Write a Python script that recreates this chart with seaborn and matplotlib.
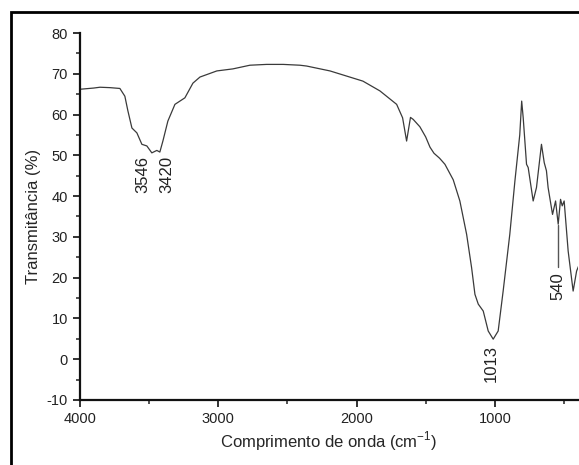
import numpy as np
import pandas as pd
import seaborn as sns
import matplotlib.pyplot as plt
from matplotlib.patches import Rectangle
from matplotlib.ticker import MultipleLocator

# FTIR spectrum
wavenumber = [4000, 3900, 3855, 3783, 3711, 3675, 3653, 3624, 3588, 3552,
              3516, 3480, 3444, 3422, 3400, 3364, 3313, 3241, 3183, 3132,
              3010, 2894, 2771, 2650, 2530, 2409, 2361, 2192, 1954, 1831,
              1710, 1667, 1638, 1610, 1590, 1542, 1500, 1469, 1440, 1400,
              1361, 1301, 1253, 1204, 1168, 1144, 1120, 1084, 1048, 1012,
              976, 940, 892, 855, 820, 806, 795, 771, 759, 723,
              699, 663, 643, 627, 615, 583, 561, 542, 525, 513,
              499, 470, 434, 409, 395]
transmittance = [66.2, 66.5, 66.7, 66.6, 66.4, 64.5, 60.9, 56.7, 55.5, 52.7,
                 52.3, 50.6, 51.2, 50.8, 53.5, 58.4, 62.5, 64.1, 67.7, 69.2,
                 70.7, 71.2, 72.1, 72.3, 72.3, 72.1, 71.9, 70.7, 68.2, 65.8,
                 62.5, 59.2, 53.5, 59.3, 58.8, 57.0, 54.5, 52.0, 50.5, 49.3,
                 47.8, 44.0, 38.8, 30.6, 22.4, 15.9, 13.5, 11.8, 6.9, 4.9,
                 6.9, 16.7, 30.6, 43.7, 55.0, 63.3, 59.2, 47.8, 47.0, 38.8,
                 42.1, 52.7, 48.2, 46.2, 42.1, 35.5, 38.8, 33.1, 39.2, 37.6,
                 38.8, 26.5, 16.7, 21.6, 22.8]

# peak labels
peak_labels = ['3546', '3420', '1013', '540']
peak_x = [3545, 3371, 1024, 542]
peak_y = [49.8, 49.8, 3.5, 21.3]

df = pd.DataFrame({'wn': wavenumber, 't': transmittance})

sns.set_style('ticks')
plt.rcParams['font.family'] = ['Liberation Sans', 'DejaVu Sans']
plt.rcParams['mathtext.fontset'] = 'custom'
plt.rcParams['mathtext.rm'] = 'Liberation Sans'
plt.rcParams['axes.unicode_minus'] = False

fig = plt.figure(figsize=(5.79, 4.65), dpi=100)
ax = fig.add_axes([0.138, 0.14, 0.86, 0.789])

sns.lineplot(data=df, x='wn', y='t', ax=ax, color='#3a3a3a', linewidth=0.9)

ax.set_xlim(4000, 400)
ax.set_ylim(-10, 80)
ax.xaxis.set_major_locator(MultipleLocator(1000))
ax.xaxis.set_minor_locator(MultipleLocator(500))
ax.yaxis.set_major_locator(MultipleLocator(10))
ax.yaxis.set_minor_locator(MultipleLocator(5))
ax.tick_params(which='major', length=5, width=1.3, labelsize=10.5, colors='#222222')
ax.tick_params(which='minor', length=3, width=1.1, colors='#222222')

sns.despine(ax=ax)
for s in ['left', 'bottom']:
    ax.spines[s].set_linewidth(1.6)
    ax.spines[s].set_color('#111111')

ax.set_xlabel('Comprimento de onda (cm$^{\\mathregular{-1}}$)', fontsize=12, labelpad=3)
ax.set_ylabel('Transmitância (%)', fontsize=12, labelpad=4)

for lab, x, y in zip(peak_labels, peak_x, peak_y):
    ax.text(x, y, lab, rotation=90, ha='center', va='top', fontsize=12, color='#222222')

# leader line for 540
ax.plot([542, 542], [22.5, 33.0], color='#555555', linewidth=1.0)

# outer frame around the figure
fig.patches.append(Rectangle((11 / 579, -0.1), 1.2, 1.1 - 12 / 465,
                             transform=fig.transFigure, fill=False,
                             edgecolor='black', linewidth=2, clip_on=False))

fig.savefig('out.png', dpi=100)
